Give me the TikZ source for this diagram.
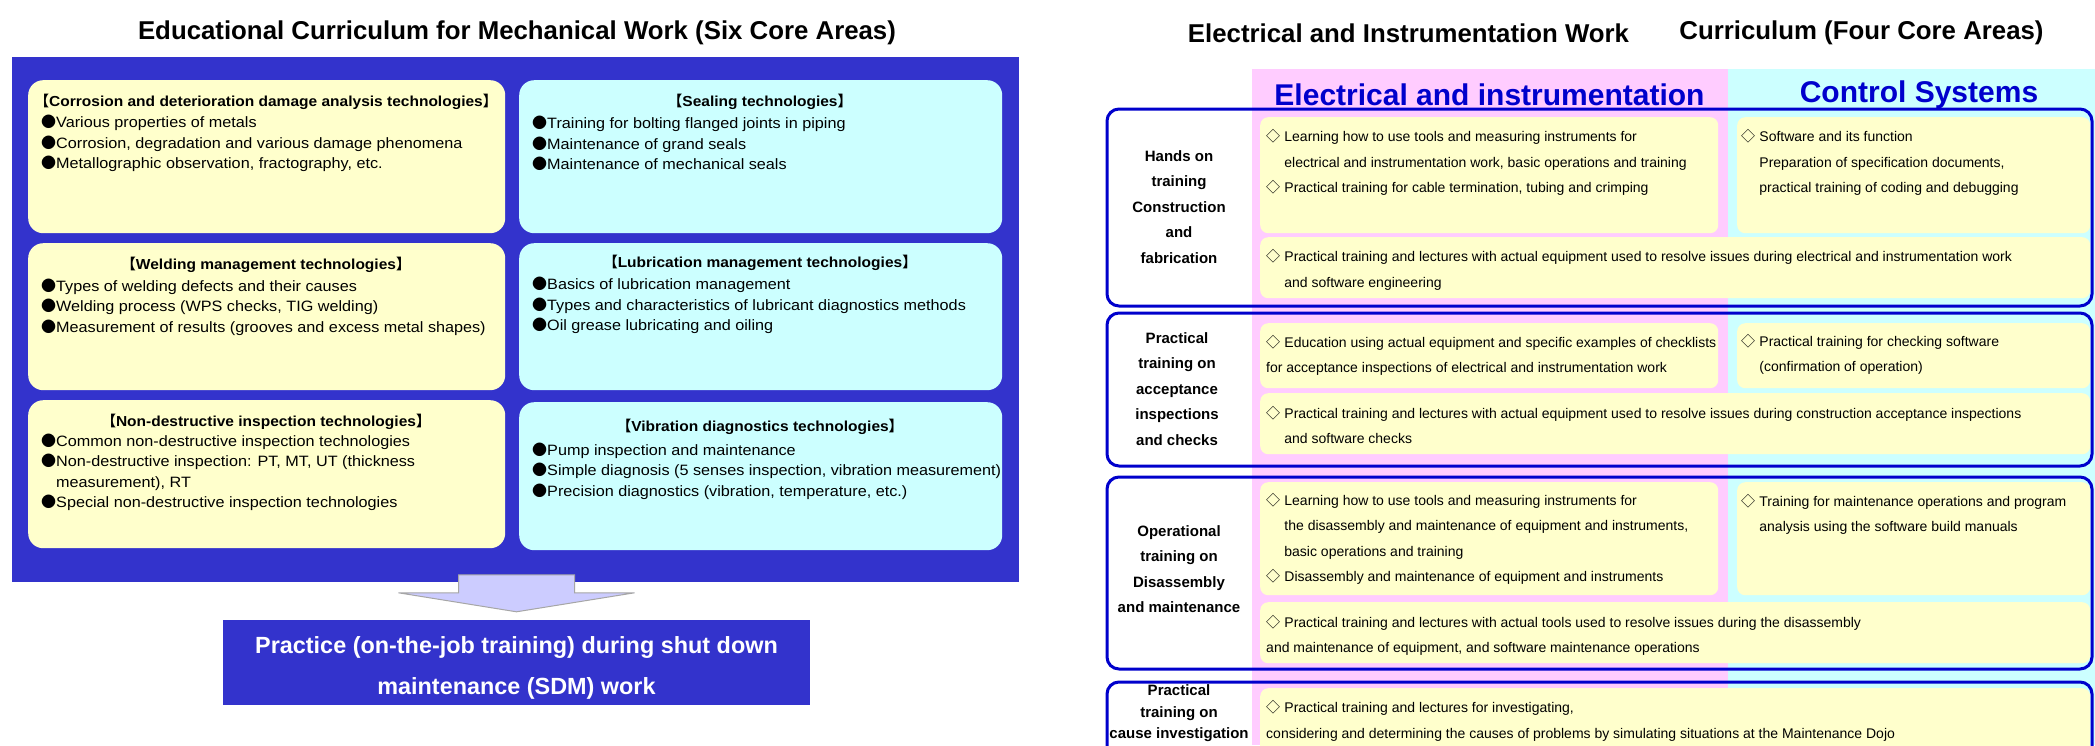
\documentclass[tikz,border=0pt]{standalone}
\usepackage{fontspec}
\setmainfont{Liberation Sans}
\newfontfamily\cjk{Noto Sans CJK JP}
\usetikzlibrary{calc,positioning}

\definecolor{panelblue}{RGB}{51,51,204}
\definecolor{rowblue}{RGB}{0,0,204}
\definecolor{boxyellow}{RGB}{255,255,204}
\definecolor{boxcyan}{RGB}{204,255,255}
\definecolor{colpink}{RGB}{255,204,255}
\definecolor{arrowfill}{RGB}{204,204,255}

\newcommand{\bul}{{\cjk ●}}
\newcommand{\lbr}{{\cjk 【}}
\newcommand{\rbr}{{\cjk 】}}
\newcommand{\dia}{{\cjk ◇}\hspace{0.3em}}
\newcommand{\ind}{\hspace{1.3em}}

\tikzset{
  title/.style={font=\fontsize{25.8}{30}\selectfont\bfseries, inner sep=0pt},
  mechbox/.style={rounded corners=15pt, anchor=north west, minimum width=477pt, inner sep=0pt},
  mhead/.style={font=\fontsize{14.5}{18}\selectfont\bfseries\addfontfeature{FakeStretch=1.07}, inner sep=0pt},
  mitems/.style={font=\fontsize{15}{20.5}\selectfont\addfontfeature{FakeStretch=1.08}, align=left, anchor=west, inner sep=0pt},
  colhead/.style={font=\fontsize{30}{34}\selectfont\bfseries, text=rowblue, inner sep=0pt},
  rowline/.style={draw=rowblue, line width=3pt, rounded corners=12pt},
  ylbox/.style={fill=boxyellow, rounded corners=8pt, anchor=north west, inner sep=0pt},
  rowlab/.style={font=\fontsize{15}{25.5}\selectfont\bfseries, align=center, inner sep=0pt},
  etext/.style={font=\fontsize{14}{25.5}\selectfont, align=left, anchor=west, inner sep=0pt}
}

\begin{document}
\begin{tikzpicture}[x=1pt, y=-1pt]
    \clip (0,0) rectangle (2095,745);
    \fill[white] (0,0) rectangle (2095,745);

    % mechanical work
    \begin{scope}
        \node[title] (mtitle) at (517,33) {Educational Curriculum for Mechanical Work (Six Core Areas)};
        \node[fill=panelblue, anchor=north west, minimum width=1007pt, minimum height=525pt, inner sep=0pt] (panel) at (12,57) {};

        % six areas
        \node[mechbox, fill=boxyellow, minimum height=153pt] (corr) at (28,80) {};
        \node[mechbox, fill=boxcyan, minimum height=153pt, minimum width=483pt] (seal) at (519,80) {};
        \node[mechbox, fill=boxyellow, minimum height=147pt] (weld) at (28,243) {};
        \node[mechbox, fill=boxcyan, minimum height=147pt, minimum width=483pt] (lube) at (519,243) {};
        \node[mechbox, fill=boxyellow, minimum height=148pt] (ndi) at (28,400) {};
        \node[mechbox, fill=boxcyan, minimum height=148pt, minimum width=483pt] (vib) at (519,402) {};

        \node[mhead] (corrh) at (266,102) {\lbr Corrosion and deterioration damage analysis technologies\rbr};
        \node[mitems] (corri) at (41,143.7) {\bul Various properties of metals\\
            \bul Corrosion, degradation and various damage phenomena\\
            \bul Metallographic observation, fractography, etc.};

        \node[mhead] (sealh) at (760,102) {\lbr Sealing technologies\rbr};
        \node[mitems] (seali) at (532,143.7) {\bul Training for bolting flanged joints in piping\\
            \bul Maintenance of grand seals\\
            \bul Maintenance of mechanical seals};

        \node[mhead] (weldh) at (266,265) {\lbr Welding management technologies\rbr};
        \node[mitems] (weldi) at (41,307) {\bul Types of welding defects and their causes\\
            \bul Welding process (WPS checks, TIG welding)\\
            \bul Measurement of results (grooves and excess metal shapes)};

        \node[mhead] (lubeh) at (760,263) {\lbr Lubrication management technologies\rbr};
        \node[mitems] (lubei) at (532,305.7) {\bul Basics of lubrication management\\
            \bul Types and characteristics of lubricant diagnostics methods\\
            \bul Oil grease lubricating and oiling};

        \node[mhead] (ndih) at (266,422) {\lbr Non-destructive inspection technologies\rbr};
        \node[mitems] (ndii) at (41,472.5) {\bul Common non-destructive inspection technologies\\
            \bul Non-destructive inspection: PT, MT, UT (thickness\\
            \hspace{1em}measurement), RT\\
            \bul Special non-destructive inspection technologies};

        \node[mhead] (vibh) at (760,427) {\lbr Vibration diagnostics technologies\rbr};
        \node[mitems] (vibi) at (532,471) {\bul Pump inspection and maintenance\\
            \bul Simple diagnosis (5 senses inspection, vibration measurement)\\
            \bul Precision diagnostics (vibration, temperature, etc.)};

        % on-the-job training
        \node[fill=panelblue, minimum width=587pt, minimum height=85pt, inner sep=0pt] (sdm) at (516.5,662.5) {};
        \node[font=\fontsize{23.4}{41}\selectfont\bfseries, text=white, align=center, inner sep=0pt] (sdmt) at (516.5,667.5)
            {Practice (on-the-job training) during shut down\\maintenance (SDM) work};
        \draw[fill=arrowfill, draw=gray!70, line width=1pt] ($(sdm.north)+(-58,-45)$) -- ++(116,0) -- ++(0,18) -- ++(60,0)
            -- ($(sdm.north)+(0,-8)$) -- ++(-118,-19) -- ++(60,0) -- cycle;
    \end{scope}

    % electrical and instrumentation work
    \begin{scope}
        \node[title] (etitle) at (1408.5,33) {Electrical and Instrumentation Work};
        \node[title] (ctitle) at (1861.5,33) {Curriculum (Four Core Areas)};

        \fill[colpink] (1252,69) rectangle (1728,745);
        \fill[boxcyan] (1728,69) rectangle (2095,745);
        \node[colhead] (elech) at (1489.5,95) {Electrical and instrumentation};
        \node[colhead] (ctrlh) at (1919,95) {Control Systems};

        % yellow boxes
        \node[ylbox, minimum width=458pt, minimum height=116pt] (e1) at (1260,117) {};
        \node[ylbox, minimum width=353pt, minimum height=116pt] (c1) at (1737,117) {};
        \node[ylbox, minimum width=830pt, minimum height=61pt] (w1) at (1260,237) {};
        \node[ylbox, minimum width=458pt, minimum height=65pt] (e2) at (1260,323) {};
        \node[ylbox, minimum width=353pt, minimum height=65pt] (c2) at (1737,323) {};
        \node[ylbox, minimum width=830pt, minimum height=61pt] (w2) at (1260,393) {};
        \node[ylbox, minimum width=458pt, minimum height=113pt] (e3) at (1260,482) {};
        \node[ylbox, minimum width=353pt, minimum height=113pt] (c3) at (1737,482) {};
        \node[ylbox, minimum width=830pt, minimum height=61pt] (w3) at (1260,602) {};
        \node[ylbox, minimum width=830pt, minimum height=80pt] (w4) at (1260,688) {};

        % rows
        \foreach \t/\b in {109/306, 313/466, 477/669, 682/780} {
            \draw[rowline] (1107,\t) rectangle (2092,\b);
        }

        \node[rowlab] (lab1) at (1179,207) {Hands on\\training\\Construction\\and\\fabrication};
        \node[rowlab] (lab2) at (1177,389) {Practical\\training on\\acceptance\\inspections\\and checks};
        \node[rowlab] (lab3) at (1179,569) {Operational\\training on\\Disassembly\\and maintenance};
        \node[rowlab, font=\fontsize{15}{21.5}\selectfont\bfseries] (lab4) at (1179,713.5) {Practical\\training on\\cause investigation};

        \node[etext] (e1t) at (1266,162.5) {\dia Learning how to use tools and measuring instruments for\\
            \ind electrical and instrumentation work, basic operations and training\\
            \dia Practical training for cable termination, tubing and crimping};
        \node[etext] (c1t) at (1741,162.5) {\dia Software and its function\\
            \ind Preparation of specification documents,\\
            \ind practical training of coding and debugging};
        \node[etext] (w1t) at (1266,270) {\dia Practical training and lectures with actual equipment used to resolve issues during electrical and instrumentation work\\
            \ind and software engineering};

        \node[etext] (e2t) at (1266,355.5) {\dia Education using actual equipment and specific examples of checklists\\
            for acceptance inspections of electrical and instrumentation work};
        \node[etext] (c2t) at (1741,354.5) {\dia Practical training for checking software\\
            \ind (confirmation of operation)};
        \node[etext] (w2t) at (1266,425) {\dia Practical training and lectures with actual equipment used to resolve issues during construction acceptance inspections\\
            \ind and software checks};

        \node[etext] (e3t) at (1266,539) {\dia Learning how to use tools and measuring instruments for\\
            \ind the disassembly and maintenance of equipment and instruments,\\
            \ind basic operations and training\\
            \dia Disassembly and maintenance of equipment and instruments};
        \node[etext] (c3t) at (1741,514.5) {\dia Training for maintenance operations and program\\
            \ind analysis using the software build manuals};
        \node[etext] (w3t) at (1266,635.5) {\dia Practical training and lectures with actual tools used to resolve issues during the disassembly\\
            and maintenance of equipment, and software maintenance operations};

        \node[etext] (w4t) at (1266,721) {\dia Practical training and lectures for investigating,\\
            considering and determining the causes of problems by simulating situations at the Maintenance Dojo};
    \end{scope}
\end{tikzpicture}
\end{document}
